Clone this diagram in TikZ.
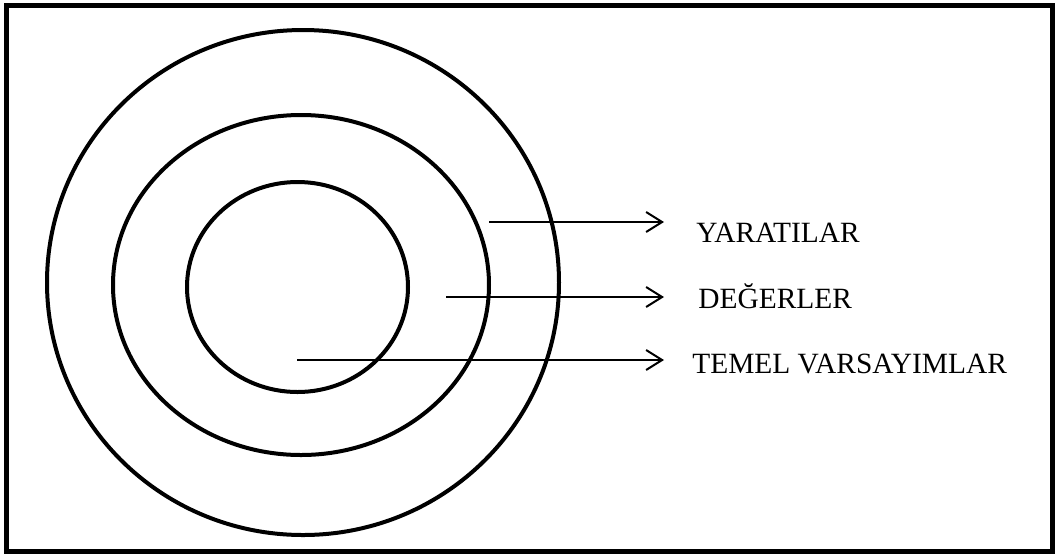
\documentclass[tikz,border=0pt]{standalone}
\usepackage{fontspec}
\setmainfont{Liberation Serif}
\usetikzlibrary{arrows.meta}
\begin{document}
\begin{tikzpicture}[x=0.5pt,y=-0.5pt,
  ring/.style={line width=2pt},
  pointer/.style={line width=1pt,-{Straight Barb[length=8pt,width=10pt,line width=1pt]}},
  layer/.style={anchor=base west,inner sep=0pt,font=\fontsize{14.7}{17}\selectfont}]
  \useasboundingbox (0,0) rectangle (1057,554);

  % Frame
  \draw[line width=2.5pt] (6,5) rectangle (1052,551);

  % Rings (outer to inner)
  \draw[ring] (303,282.5) ellipse (256 and 252.5);
  \draw[ring] (301,285) ellipse (188 and 170);
  \draw[ring] (297.5,287) ellipse (110.5 and 105);

  % Labels
  \node[layer] (yaratilar) at (696,242) {YARATILAR};
  \node[layer] (degerler) at (698,308) {DEĞERLER};
  \node[layer] (temel) at (692,373) {TEMEL VARSAYIMLAR};

  % Pointers
  \coordinate (yStart) at (489,222);
  \coordinate (yEnd) at (664,222);
  \coordinate (dStart) at (446,297);
  \coordinate (dEnd) at (664,297);
  \coordinate (tStart) at (297,360);
  \coordinate (tEnd) at (664,360);
  \draw[pointer] (yStart) -- (yEnd);
  \draw[pointer] (dStart) -- (dEnd);
  \draw[pointer] (tStart) -- (tEnd);

\end{tikzpicture}
\end{document}
